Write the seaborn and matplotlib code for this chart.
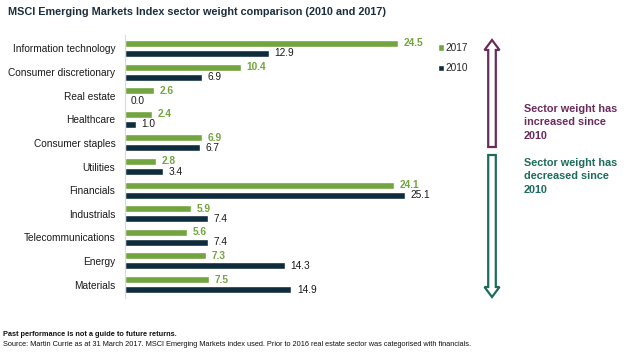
import numpy as np
import pandas as pd
import matplotlib
matplotlib.use('Agg')
import matplotlib.pyplot as plt
from matplotlib.patches import Polygon
import seaborn as sns

# data
sectors = ['Information technology', 'Consumer discretionary', 'Real estate',
           'Healthcare', 'Consumer staples', 'Utilities', 'Financials',
           'Industrials', 'Telecommunications', 'Energy', 'Materials']
w2017 = [24.5, 10.4, 2.6, 2.4, 6.9, 2.8, 24.1, 5.9, 5.6, 7.3, 7.5]
w2010 = [12.9, 6.9, 0.0, 1.0, 6.7, 3.4, 25.1, 7.4, 7.4, 14.3, 14.9]
years = ['2017', '2010']

green = '#72a43f'
navy = '#0f2c3d'
purple = '#6a2c5b'
teal = '#1d6b5c'

df = pd.DataFrame({'sector': sectors * 2,
                   'weight': w2017 + w2010,
                   'year': [years[0]] * len(sectors) + [years[1]] * len(sectors)})

sns.set_style('white')
plt.rcParams['font.family'] = ['Liberation Sans', 'DejaVu Sans']

W, H = 640, 357
fig = plt.figure(figsize=(6.4, 3.57), dpi=100)

# main bar axes, placed in pixel terms
x0, x1 = 125, 125 + 25.5 * 11.16
y0, y1 = 35, 298
ax = fig.add_axes([x0 / W, 1 - y1 / H, (x1 - x0) / W, (y1 - y0) / H])

sns.barplot(data=df, y='sector', x='weight', hue='year', orient='h',
            palette={'2017': green, '2010': navy}, saturation=1,
            width=0.85, ax=ax, legend=True)
# leave a small white gap between the paired bars
for bar in ax.patches:
    h = bar.get_height()
    bar.set_y(bar.get_y() + h * 0.15)
    bar.set_height(h * 0.7)

ax.set_xlim(0, 25.5)
ax.set_ylim(10.57, -0.57)
ax.set_xlabel('')
ax.set_ylabel('')
ax.set_xticks([])
for s in ['top', 'right', 'bottom']:
    ax.spines[s].set_visible(False)
ax.spines['left'].set_color('#d9d9d9')
ax.spines['left'].set_linewidth(0.8)
ax.tick_params(axis='y', length=0, pad=7, labelsize=7.3, labelcolor='#1a1a1a')

ax.bar_label(ax.containers[0], fmt='%.1f', padding=4, color=green,
             fontsize=7.3, fontweight='bold')
ax.bar_label(ax.containers[1], fmt='%.1f', padding=4, color='#1a1a1a',
             fontsize=7.3)

ax.legend(loc='upper left', bbox_to_anchor=(434 / W, 1 - 39 / H),
          bbox_transform=fig.transFigure, frameon=False, fontsize=7.3,
          handlelength=0.55, handleheight=0.55, handletextpad=0.2,
          labelspacing=1.0, borderaxespad=0)

# overlay in pixel coordinates for the arrows and notes
ov = fig.add_axes([0, 0, 1, 1], zorder=-1)
ov.set_xlim(0, W)
ov.set_ylim(H, 0)
ov.axis('off')


def arrow(xc, tip, base, color, up=True):
    hw, sw, hl = 7.5, 3.8, 10
    d = 1 if up else -1
    neck = tip + d * hl
    pts = [(xc, tip), (xc + hw, neck), (xc + sw, neck), (xc + sw, base),
           (xc - sw, base), (xc - sw, neck), (xc - hw, neck)]
    ov.add_patch(Polygon(pts, closed=True, facecolor='white',
                         edgecolor=color, linewidth=1.6))


arrow(492, 40, 147, purple, up=True)
arrow(492, 297, 155, teal, up=False)

ov.text(524, 104, 'Sector weight has\nincreased since\n2010', color=purple,
        fontsize=7.8, fontweight='bold', va='top', ha='left',
        linespacing=1.42)
ov.text(524, 158, 'Sector weight has\ndecreased since\n2010', color=teal,
        fontsize=7.8, fontweight='bold', va='top', ha='left',
        linespacing=1.42)

fig.text(8 / W, 1 - 12 / H,
         'MSCI Emerging Markets Index sector weight comparison (2010 and 2017)',
         fontsize=7.8, fontweight='bold', color='#1b2f3e', va='center')
fig.text(3 / W, 1 - 335 / H, 'Past performance is not a guide to future returns.',
         fontsize=5.3, fontweight='bold', color='#111111', va='center')
fig.text(3 / W, 1 - 345 / H,
         'Source: Martin Currie as at 31 March 2017. MSCI Emerging Markets index used. '
         'Prior to 2016 real estate sector was categorised with financials.',
         fontsize=5.3, color='#111111', va='center')

fig.savefig('out.png', dpi=100)
